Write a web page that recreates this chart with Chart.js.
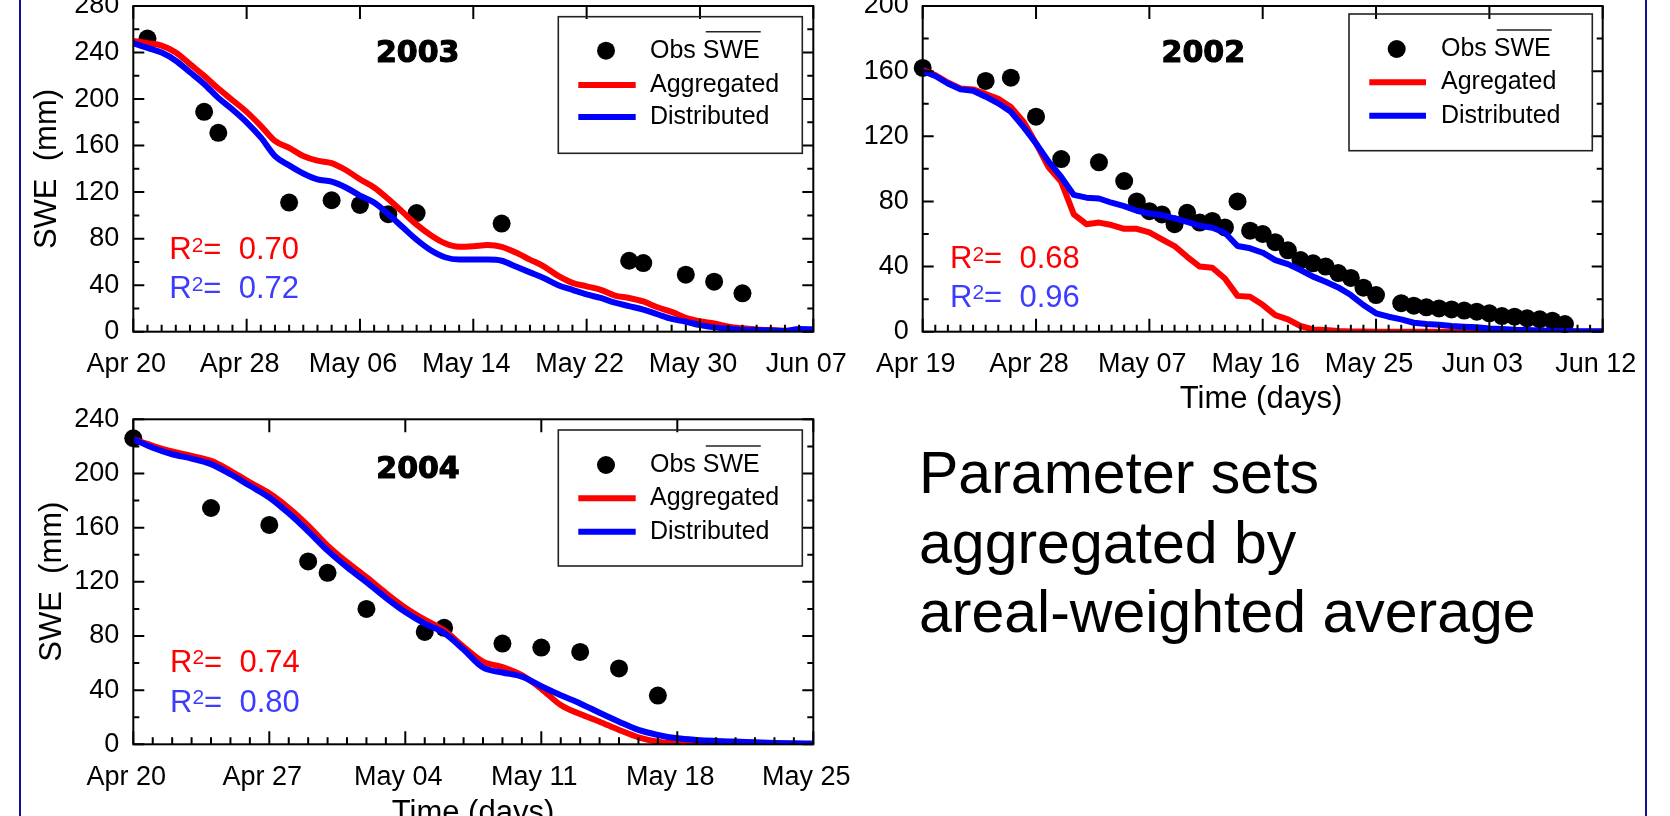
<!DOCTYPE html>
<html>
<head>
<meta charset="utf-8">
<title>SWE - aggregated vs distributed</title>
<script src="https://cdn.jsdelivr.net/npm/chart.js@4.4.1/dist/chart.umd.min.js"></script>
<style>
  html, body { margin: 0; padding: 0; background: #fff; }
  body { width: 1670px; height: 816px; position: relative; overflow: hidden;
         font-family: 'Liberation Sans', Arial, sans-serif; }
  canvas { position: absolute; }
  #c2003 { left: 0; top: 0; }
  #c2002 { left: 860px; top: 0; }
  #c2004 { left: 0; top: 400px; }
  .edge { position: absolute; top: 0; height: 816px; width: 2px; background: #10109a; }
  .note { position: absolute; left: 919px; top: 439px; font-size: 59px; line-height: 69.5px; color: #000; }
</style>
</head>
<body>

<div class="edge" style="left:19px"></div>
<div class="edge" style="left:1645px"></div>

<canvas id="c2003" width="860" height="400"></canvas>
<canvas id="c2002" width="810" height="420"></canvas>
<canvas id="c2004" width="860" height="416"></canvas>

<div class="note">Parameter sets<br>aggregated by<br>areal-weighted average</div>

<script>
// ---- data (day index from first tick date, SWE in mm) ----

// 2003: Apr 20 .. Jun 07
const ticks2003 = ['Apr 20', 'Apr 28', 'May 06', 'May 14', 'May 22', 'May 30', 'Jun 07'];
const obsDay2003 = [1, 5, 6, 11, 14, 16, 18, 20, 26, 35, 36, 39, 41, 43];
const obsSwe2003 = [252, 189, 171, 111, 113, 109, 101, 102, 93, 61, 59, 49, 43, 33];
const agg2003 = [250, 248, 246, 240, 230, 220, 209, 199, 189, 177, 164, 158, 151, 147, 145, 139, 131,
  124, 114, 103, 92, 83, 76, 73, 73.5, 74.5, 73, 68, 62, 56, 48, 42, 39, 36, 31, 29, 26, 21, 17, 12,
  9, 7, 4.3, 2.9, 2, 1.4, 0.9, 0.6, 0.3];
const dist2003 = [248, 244, 240, 233, 223, 213, 201, 191, 180, 167, 151, 143, 136, 131, 129, 124, 117,
  111, 101, 90, 79, 70, 64, 62, 62, 62, 61, 56, 51, 46, 40, 36, 32, 29, 25, 22, 19, 15, 11, 8.6,
  5.7, 3.7, 2.6, 1.7, 1.4, 1.1, 0.6, 2.3, 2];

// 2002: Apr 19 .. Jun 12
const ticks2002 = ['Apr 19', 'Apr 28', 'May 07', 'May 16', 'May 25', 'Jun 03', 'Jun 12'];
const obsDay2002 = [0, 5, 7, 9, 11, 14, 16, 17, 18, 19, 20, 21, 22, 23, 24, 25, 26, 27, 28, 29, 30, 31,
  32, 33, 34, 35, 36, 38, 39, 40, 41, 42, 43, 44, 45, 46, 47, 48, 49, 50, 51];
const obsSwe2002 = [162, 154, 156, 132, 106, 104, 92.5, 80, 74, 72, 66, 73, 67, 68, 64, 80, 62, 60, 55,
  50, 44, 42, 40, 36, 33, 27, 22.5, 17.5, 16, 15, 14.3, 13.7, 13, 12.3, 11.3, 9.6, 9.2, 8.2, 7.6, 6.8, 4.7];
const agg2002 = [160.6, 157.6, 153, 149.4, 148.8, 146, 143, 138, 129, 115.6, 101, 92, 72, 66, 67, 65.5,
  63.2, 63.2, 61, 56.7, 52.6, 46, 40, 39.3, 32.7, 22, 21.5, 16.5, 10.2, 7.6, 3.5, 1.4, 1, 0.4, 0.2, 0.1,
  0, 0, 0, 0, 0, 0, 0, 0, 0, 0, 0, 0, 0, 0, 0, 0, 0, 0, 0];
const dist2002 = [160, 157, 152.4, 148.8, 148, 144.3, 140.2, 135, 125.8, 115.6, 104.4, 95, 84, 82.3, 81.8,
  79.2, 77.1, 74.3, 72.6, 71.6, 69.6, 67.5, 65.1, 63.8, 60.8, 52.6, 51.2, 48.5, 44, 41.5, 37.9, 33.8,
  30.7, 27.2, 22.5, 16.4, 11.3, 9.2, 7.6, 5.5, 4.7, 4.3, 3.5, 3.1, 2.7, 2, 1.6, 1.2, 1, 0.8, 0.6, 0.4,
  0.3, 0.2, 0.2];

// 2004: Apr 20 .. May 25
const ticks2004 = ['Apr 20', 'Apr 27', 'May 04', 'May 11', 'May 18', 'May 25'];
const obsDay2004 = [0, 4, 7, 9, 10, 12, 15, 16, 19, 21, 23, 25, 27];
const obsSwe2004 = [226, 174.5, 162, 135, 126.6, 100, 83, 86, 74.4, 71.4, 68.2, 56, 36];
const agg2004 = [225.3, 220.4, 216.2, 213, 209.3, 202, 193.4, 185.3, 174.5, 161.5, 146.7, 134.5, 123.4,
  111.7, 100.9, 92, 84.2, 72, 61, 57, 51, 41, 29, 22.3, 16.7, 10.6, 5.2, 2, 0.7, 0.3, 0.2, 0.1, 0.1, 0, 0, 0];
const dist2004 = [225.3, 219, 214.2, 211, 206.9, 199.5, 190.9, 182.3, 170.6, 157.3, 143, 130.8, 119.8,
  108.2, 97.7, 89.1, 82.2, 70, 56.7, 53, 50, 42.9, 36.3, 30.2, 23.3, 16.7, 10.6, 6.9, 4.4, 3.2, 2.5, 2,
  1.5, 1, 0.7, 0.5];

const FONT = "'Liberation Sans', Arial, sans-serif";
const RED = '#ff0000';
const BLUE = '#0000ff';
const R2BLUE = '#3c3cff';

// frame, inward ticks, labels and legend drawn on top of the chart
const decor = {
  id: 'decor',
  afterDraw(chart, args, o) {
    const ctx = chart.ctx, a = chart.chartArea;
    const xs = chart.scales.x, ys = chart.scales.y;
    ctx.save();
    ctx.strokeStyle = '#000';
    ctx.lineWidth = 2;
    ctx.beginPath();
    for (let d = xs.min; d <= xs.max; d++) {
      const px = xs.getPixelForValue(d);
      const major = d % o.xStep === 0;
      ctx.moveTo(px, a.bottom);
      ctx.lineTo(px, a.bottom - (major ? 13 : 7));
      if (major) {
        ctx.moveTo(px, a.top);
        ctx.lineTo(px, a.top + 13);
      }
    }
    for (let v = 0; v <= ys.max; v += 20) {
      const py = ys.getPixelForValue(v);
      const len = v % 40 === 0 ? 11 : 6;
      ctx.moveTo(a.left, py);
      ctx.lineTo(a.left + len, py);
      ctx.moveTo(a.right, py);
      ctx.lineTo(a.right - len, py);
    }
    ctx.stroke();
    ctx.strokeRect(a.left, a.top, a.right - a.left, a.bottom - a.top);

    // year, a little heavier than plain bold
    ctx.fillStyle = '#000';
    ctx.strokeStyle = '#000';
    ctx.lineWidth = 1.2;
    ctx.font = "bold 30px 'DejaVu Sans', sans-serif";
    ctx.textAlign = 'center';
    ctx.textBaseline = 'alphabetic';
    ctx.fillText(o.year, o.yearX, o.yearY);
    ctx.strokeText(o.year, o.yearX, o.yearY);

    // R^2
    const r2 = (x, y, color, val) => {
      ctx.fillStyle = color;
      ctx.textAlign = 'left';
      ctx.font = '31px ' + FONT;
      ctx.fillText('R', x, y);
      let w = ctx.measureText('R').width;
      ctx.font = '21px ' + FONT;
      ctx.fillText('2', x + w, y - 7.5);
      w += ctx.measureText('2').width;
      ctx.font = '31px ' + FONT;
      ctx.fillText('=  ' + val, x + w, y);
    };
    r2(o.r2X, o.r2Y[0], RED, o.r2[0]);
    r2(o.r2X, o.r2Y[1], R2BLUE, o.r2[1]);

    // legend
    const L = o.legend;
    ctx.lineWidth = 1.6;
    ctx.strokeStyle = '#222';
    ctx.strokeRect(L.box[0], L.box[1], L.box[2] - L.box[0], L.box[3] - L.box[1]);
    ctx.fillStyle = '#000';
    ctx.beginPath();
    ctx.arc(L.markX, L.rows[0], 9, 0, Math.PI * 2);
    ctx.fill();
    ctx.lineWidth = 6;
    ctx.strokeStyle = RED;
    ctx.beginPath();
    ctx.moveTo(L.lineX[0], L.rows[1]);
    ctx.lineTo(L.lineX[1], L.rows[1]);
    ctx.stroke();
    ctx.strokeStyle = BLUE;
    ctx.beginPath();
    ctx.moveTo(L.lineX[0], L.rows[2]);
    ctx.lineTo(L.lineX[1], L.rows[2]);
    ctx.stroke();
    ctx.font = '25px ' + FONT;
    ctx.textAlign = 'left';
    ctx.textBaseline = 'middle';
    ctx.fillStyle = '#000';
    ctx.fillText('Obs SWE', L.textX, L.rows[0]);
    ctx.fillText(L.aggLabel, L.textX, L.rows[1]);
    ctx.fillText('Distributed', L.textX, L.rows[2]);
    // bar over "SWE"
    const x0 = L.textX + ctx.measureText('Obs ').width;
    const x1 = x0 + ctx.measureText('SWE').width;
    ctx.lineWidth = 1.5;
    ctx.strokeStyle = '#222';
    ctx.beginPath();
    ctx.moveTo(x0 + 3, L.rows[0] - 19);
    ctx.lineTo(x1 + 1, L.rows[0] - 19);
    ctx.stroke();

    // axis titles
    ctx.fillStyle = '#000';
    ctx.font = '31px ' + FONT;
    if (o.yTitle) {
      ctx.save();
      ctx.translate(o.yTitle[0], o.yTitle[1]);
      ctx.rotate(-Math.PI / 2);
      ctx.textAlign = 'center';
      ctx.textBaseline = 'middle';
      ctx.fillText('SWE  (mm)', 0, 0);
      ctx.restore();
    }
    if (o.xTitle) {
      ctx.textAlign = 'center';
      ctx.textBaseline = 'alphabetic';
      ctx.fillText('Time (days)', o.xTitle[0], o.xTitle[1]);
    }
    ctx.restore();
  }
};

function makeChart(id, s) {
  const line = arr => arr.map((v, i) => ({ x: i, y: v }));
  const pts = s.obsDay.map((d, i) => ({ x: d, y: s.obsSwe[i] }));
  const lineStyle = {
    pointRadius: 0, borderWidth: 6, fill: false,
    borderJoinStyle: 'round', borderCapStyle: 'round',
    cubicInterpolationMode: s.smooth ? 'monotone' : 'default', tension: 0
  };
  return new Chart(document.getElementById(id), {
    type: 'line',
    data: {
      datasets: [
        Object.assign({ label: 'Distributed', data: line(s.dist), borderColor: BLUE }, lineStyle),
        Object.assign({ label: s.aggLabel, data: line(s.agg), borderColor: RED }, lineStyle),
        { label: 'Obs SWE', data: pts, showLine: false, pointRadius: 9, pointBorderWidth: 0,
          pointBackgroundColor: '#000', borderColor: '#000', clip: false }
      ]
    },
    options: {
      responsive: false,
      animation: false,
      events: [],
      layout: { padding: s.pad, autoPadding: false },
      plugins: { legend: { display: false }, tooltip: { enabled: false }, decor: s.decor },
      scales: {
        x: {
          type: 'linear', min: 0, max: s.days,
          grid: { display: false, drawTicks: false, tickLength: 0 },
          border: { display: false },
          ticks: {
            stepSize: s.step, autoSkip: false, maxRotation: 0, padding: 17, labelOffset: -7,
            color: '#000', font: { family: FONT, size: 27 },
            callback: v => s.labels[Math.round(v / s.step)]
          },
          afterFit: sc => { sc.height = 50; sc.paddingLeft = 0; sc.paddingRight = 0; }
        },
        y: {
          min: 0, max: s.ymax,
          grid: { display: false, drawTicks: false, tickLength: 0 },
          border: { display: false },
          ticks: { stepSize: 40, padding: 14, color: '#000', font: { family: FONT, size: 27 } },
          afterFit: sc => { sc.width = s.yWidth; sc.paddingTop = 0; sc.paddingBottom = 0; }
        }
      }
    },
    plugins: [decor]
  });
}

makeChart('c2003', {
  labels: ticks2003, days: 48, step: 8, ymax: 280, smooth: true,
  obsDay: obsDay2003, obsSwe: obsSwe2003, agg: agg2003, dist: dist2003, aggLabel: 'Aggregated',
  pad: { left: 0, top: 6, right: 46.7, bottom: 18.3 }, yWidth: 133.3,
  decor: {
    xStep: 8, year: '2003', yearX: 417.7, yearY: 61.7,
    r2: ['0.70', '0.72'], r2X: 169.3, r2Y: [259.3, 298.3],
    legend: { box: [558.3, 16.7, 802.3, 153.3], markX: 606, lineX: [578.3, 635.7],
              rows: [50.7, 85, 117], textX: 650, aggLabel: 'Aggregated' },
    yTitle: [47, 169]
  }
});

makeChart('c2002', {
  labels: ticks2002, days: 54, step: 9, ymax: 200, smooth: false,
  obsDay: obsDay2002, obsSwe: obsSwe2002, agg: agg2002, dist: dist2002, aggLabel: 'Agregated',
  pad: { left: 0, top: 6, right: 67.3, bottom: 38.3 }, yWidth: 62.7,
  decor: {
    xStep: 9, year: '2002', yearX: 343.3, yearY: 61.7,
    r2: ['0.68', '0.96'], r2X: 90, r2Y: [268.3, 306.7],
    legend: { box: [489, 14, 732.3, 150.7], markX: 536.7, lineX: [509.3, 566],
              rows: [49, 82.3, 115.7], textX: 581, aggLabel: 'Agregated' },
    xTitle: [401, 408.3]
  }
});

makeChart('c2004', {
  labels: ticks2004, days: 35, step: 7, ymax: 240, smooth: true,
  obsDay: obsDay2004, obsSwe: obsSwe2004, agg: agg2004, dist: dist2004, aggLabel: 'Aggregated',
  pad: { left: 0, top: 19.3, right: 46.7, bottom: 21.7 }, yWidth: 133.3,
  decor: {
    xStep: 7, year: '2004', yearX: 418, yearY: 78.3,
    r2: ['0.74', '0.80'], r2X: 170, r2Y: [271.7, 311.7],
    legend: { box: [558.3, 30, 802.3, 166], markX: 606, lineX: [578.3, 635.7],
              rows: [65, 98.3, 131.7], textX: 650, aggLabel: 'Aggregated' },
    yTitle: [52, 181.7], xTitle: [473, 422]
  }
});
</script>
</body>
</html>
